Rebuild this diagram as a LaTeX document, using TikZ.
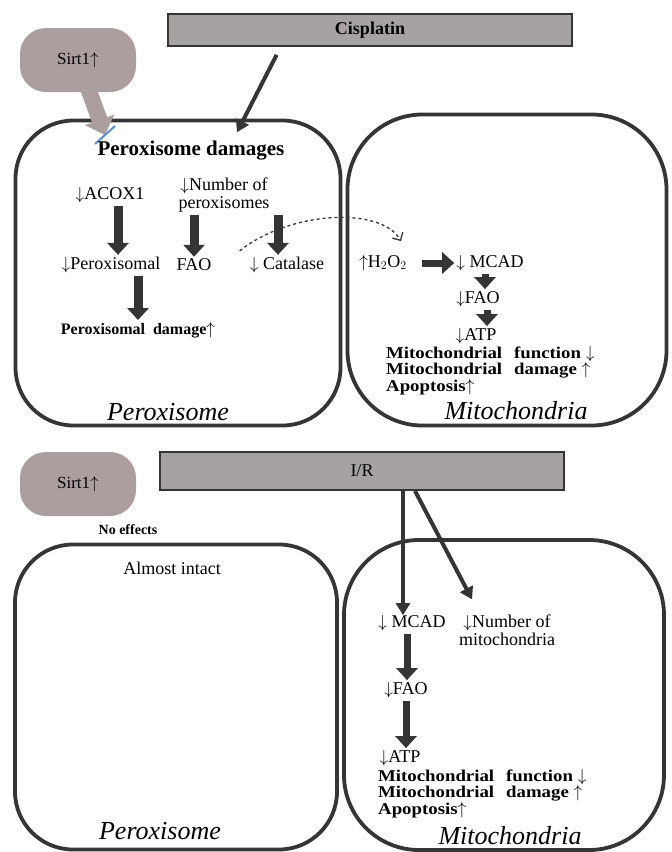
\documentclass[tikz,border=0pt]{standalone}
\usepackage{fontspec}
\setmainfont{Liberation Serif}
\newfontfamily\widebold[FakeStretch=1.14]{Liberation Serif}
\usetikzlibrary{arrows.meta,calc}
\definecolor{wall}{HTML}{353535}
\definecolor{drug}{HTML}{A7A2A2}
\definecolor{sirt}{HTML}{AB9E9E}
\definecolor{bar}{HTML}{5A8FD8}

\begin{document}
\begin{tikzpicture} [x=1pt, y=-1pt,
		every node/.style = {align=center, inner sep=0pt, font=\fontsize{18}{18}\selectfont},
		organelle/.style = {draw=wall, line width=3.8pt, rounded corners=58pt},
		trigger/.style = {draw=wall, line width=1.8pt, fill=drug, minimum width=404pt},
		sirtbox/.style = {fill=sirt, rounded corners=26pt, minimum width=116pt, minimum height=64pt, font=\fontsize{17}{17}\selectfont},
		fat/.style = {draw=wall, line width=9pt, shorten <=3pt, shorten >=2pt, -{Triangle[width=21pt,length=12pt]}},
		hit/.style = {draw=wall, line width=4pt, -{Triangle[width=14pt,length=12pt]}},
		effects/.style = {anchor=north west, align=left, font=\widebold\fontsize{16.5}{16.5}\selectfont\bfseries},
		orglabel/.style = {font=\fontsize{26}{26}\selectfont\itshape}]
	\useasboundingbox [fill=white] (0,0) rectangle (672,852);

	\node [trigger, minimum height=32pt, font=\fontsize{18}{18}\selectfont\bfseries] (cis) at (370,30) {Cisplatin};
	\node [organelle, minimum width=325pt, minimum height=305pt] (pera) at (178,273) {};
	\node [organelle, rounded corners=75pt, minimum width=319pt, minimum height=311pt] (mita) at (507,270) {};
	\node [sirtbox] (sirta) at (78,60) {Sirt1$\uparrow$};
	\coordinate (sirttip) at (105,135);
	\draw [line width=16pt, sirt, shorten <=18pt, -{Triangle[width=30pt,length=16pt]}] (sirta.center) -- (sirttip);
	\draw [bar, line width=2pt] ($(sirttip)+(-10,9)$) -- ($(sirttip)+(10,-9)$);

	\node [font=\fontsize{21}{21}\selectfont\bfseries] (pdmg) at (191,151) {Peroxisome damages};
	\node (acox) at (110,195) {$\downarrow$ACOX1};
	\node (nump) at (224,195) {$\downarrow$Number of\\peroxisomes};
	\node (pfao) at (111,265) {$\downarrow$Peroxisomal};
	\node (fao) at (194,265) {FAO};
	\node (cat) at (287,265) {$\downarrow$ Catalase};
	\node [font=\fontsize{16}{16}\selectfont\bfseries] (pdam) at (138,330) {Peroxisomal\hspace{8pt}damage$\uparrow$};
	\node [orglabel] (pertag) at (168,412) {Peroxisome};

	\draw [hit, shorten <=9pt] ($(cis.south west)!0.28!(cis.south east)$) -- ([xshift=46pt, yshift=9pt]pdmg.north);
	\draw [fat] ([xshift=8pt]acox.south) -- ([xshift=8pt]acox.south |- pfao.north);
	\draw [fat] (fao |- nump.south) -- (fao.north);
	\draw [fat] ([xshift=-9pt]cat.north |- nump.south) -- ([xshift=-9pt]cat.north);
	\draw [fat] (pdam.north |- pfao.south) -- (pdam.north);

	\node (h2o2) at (383,263) {$\uparrow$H$_2$O$_2$};
	\node (mcad) at (490,263) {$\downarrow$ MCAD};
	\node (faom) at (478,299) {$\downarrow$FAO};
	\node (atpm) at (476,336) {$\downarrow$ATP};
	\node [effects] (mfuna) at (386,346) {Mitochondrial\hspace{12pt}function $\downarrow$\\Mitochondrial\hspace{12pt}damage $\uparrow$\\Apoptosis$\uparrow$};
	\node [orglabel] (mittag) at (516,411) {Mitochondria};

	\draw [wall, line width=1.3pt, dashed, -{Straight Barb[length=6pt]}] ([xshift=-10pt, yshift=6pt]cat.north west) .. controls +(50,-40) and +(-20,-35) .. ([xshift=18pt, yshift=14pt]h2o2.north);
	\draw [fat, line width=7pt, shorten <=15pt] (h2o2.east) -- (mcad.west);
	\draw [fat, line width=7pt] ([xshift=-5pt]mcad.south) -- ([xshift=-5pt]mcad.south |- faom.north);
	\draw [fat, line width=7pt] ([xshift=9pt]faom.south) -- ([xshift=9pt]faom.south |- atpm.north);

	\node [trigger, minimum height=38pt, font=\fontsize{18}{18}\selectfont] (ir) at (362,471) {I/R};
	\node [sirtbox] (sirtb) at (78,484) {Sirt1$\uparrow$};
	\node [font=\fontsize{14}{14}\selectfont\bfseries] (noeff) at (128,530) {No effects};
	\node [organelle, minimum width=322pt, minimum height=305pt] (perb) at (176,697) {};
	\node [organelle, rounded corners=75pt, minimum width=320pt, minimum height=310pt] (mitb) at (504,695) {};
	\node (almost) at (172,568) {Almost intact};
	\node [orglabel] (pertagb) at (160,831) {Peroxisome};

	\node (mcadb) at (412,623) {$\downarrow$ MCAD};
	\node (numm) at (507,630) {$\downarrow$Number of\\mitochondria};
	\node (faob) at (406,690) {$\downarrow$FAO};
	\node (atpb) at (400,758) {$\downarrow$ATP};
	\node [effects] (mfunb) at (378,769) {Mitochondrial\hspace{12pt}function $\downarrow$\\Mitochondrial\hspace{12pt}damage $\uparrow$\\Apoptosis$\uparrow$};
	\node [orglabel] (mittagb) at (510,836) {Mitochondria};

	\draw [hit, line width=4.5pt] ([xshift=41pt]ir.south) -- ([xshift=41pt]ir.south |- mcadb.north);
	\draw [hit] ([xshift=53pt]ir.south) -- ([xshift=-35pt, yshift=15pt]numm.north);
	\draw [fat, line width=7pt] ([xshift=-5pt]mcadb.south) -- ([xshift=-5pt]mcadb.south |- faob.north);
	\draw [fat, line width=7pt] (faob.south) -- (faob.south |- atpb.north);
\end{tikzpicture}
\end{document}
